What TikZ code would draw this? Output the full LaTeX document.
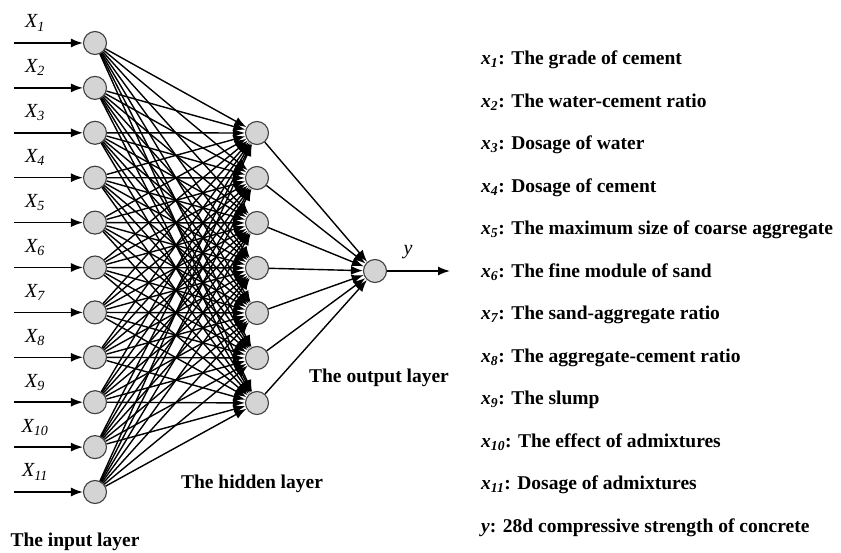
\documentclass[tikz,border=0pt]{standalone}
\usepackage{fontspec}
\setmainfont{Liberation Serif}
\usetikzlibrary{arrows.meta}
\begin{document}
\begin{tikzpicture}[x=1pt,y=-1pt,
  neuron/.style={circle,draw=black!75,line width=1.1pt,fill=black!17,minimum size=23pt,inner sep=0pt},
  conn/.style={line width=1.4pt,-{Latex[length=12pt,width=9pt]}},
  inarrow/.style={line width=1.5pt,-{Latex[length=12pt,width=9pt]}},
  xlab/.style={font=\fontsize{20}{20}\selectfont\itshape,inner sep=0pt},
  layerlab/.style={font=\fontsize{19.5}{19.5}\selectfont\bfseries,inner sep=0pt},
  desc/.style={font=\fontsize{19.5}{19.5}\selectfont\bfseries,anchor=west,inner sep=0pt}]
\useasboundingbox (0,0) rectangle (841,553);
% input layer
\foreach \i in {1,...,11}{
  \node[neuron] (i\i) at (95,{43+44.9*(\i-1)}) {};
  \coordinate (s\i) at (14,{43+44.9*(\i-1)});
  \draw[inarrow] (s\i) -- (i\i);
  \node[xlab] (lx\i) at (35,{43+44.9*(\i-1)-20}) {X\textsubscript{\i}};
}
% hidden layer
\foreach \j in {1,...,7}{
  \node[neuron] (h\j) at (257,{133+45*(\j-1)}) {};
}
% output
\node[neuron] (o) at (375,271) {};
\foreach \i in {1,...,11}{
  \foreach \j in {1,...,7}{
    \draw[conn] (i\i) -- (h\j);
  }
}
\foreach \j in {1,...,7}{
  \draw[conn] (h\j) -- (o);
}
\coordinate (yend) at (450,271);
\draw[inarrow] (o) -- (yend);
\node[xlab] (ylab) at (408,252) {y};
% layer labels
\node[layerlab] (inl) at (75,542) {The input layer};
\node[layerlab] (hil) at (252,484) {The hidden layer};
\node[layerlab] (oul) at (379,378) {The output layer};
% descriptions
\node[desc] (d1) at (481,60) {\textit{x\textsubscript{1}}: The grade of cement};
\node[desc] (d2) at (481,102.5) {\textit{x\textsubscript{2}}: The water-cement ratio};
\node[desc] (d3) at (481,145) {\textit{x\textsubscript{3}}: Dosage of water};
\node[desc] (d4) at (481,187.5) {\textit{x\textsubscript{4}}: Dosage of cement};
\node[desc] (d5) at (481,230) {\textit{x\textsubscript{5}}: The maximum size of coarse aggregate};
\node[desc] (d6) at (481,272.5) {\textit{x\textsubscript{6}}: The fine module of sand};
\node[desc] (d7) at (481,315) {\textit{x\textsubscript{7}}: The sand-aggregate ratio};
\node[desc] (d8) at (481,357.5) {\textit{x\textsubscript{8}}: The aggregate-cement ratio};
\node[desc] (d9) at (481,400) {\textit{x\textsubscript{9}}: The slump};
\node[desc] (d10) at (481,442.5) {\textit{x\textsubscript{10}}: The effect of admixtures};
\node[desc] (d11) at (481,485) {\textit{x\textsubscript{11}}: Dosage of admixtures};
\node[desc] (d12) at (481,527.5) {\textit{y}: 28d compressive strength of concrete};
\end{tikzpicture}
\end{document}
